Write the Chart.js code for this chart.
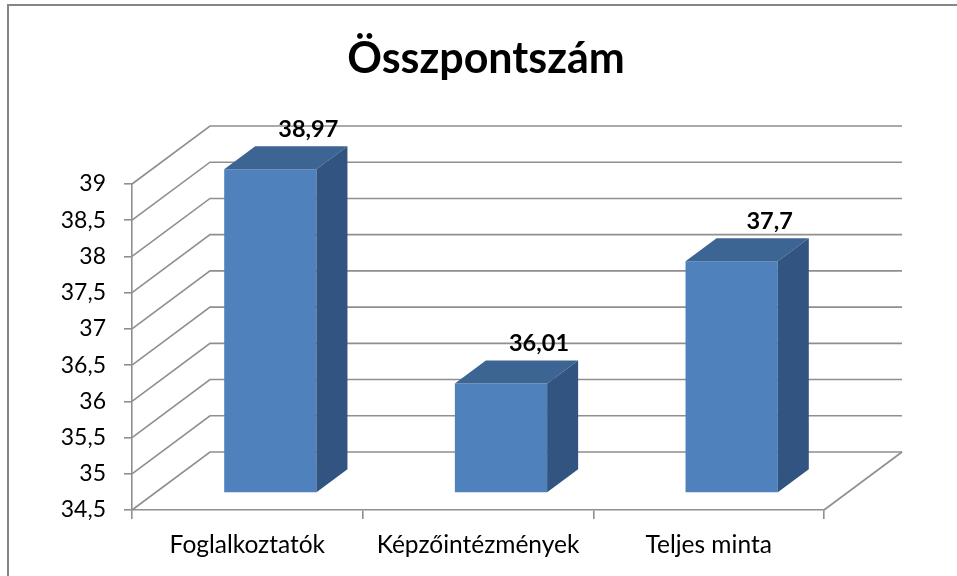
<!DOCTYPE html>
<html>
<head>
<meta charset="utf-8">
<script src="https://cdn.jsdelivr.net/npm/chart.js@4.4.1/dist/chart.umd.min.js"></script>
<style>
  html, body { margin: 0; padding: 0; background: #fff; }
  #wrap { width: 957px; height: 576px; }
</style>
</head>
<body>
<div id="wrap"><canvas id="scoreChart" width="957" height="576"></canvas></div>
<script>
const chartTitle = "Összpontszám";
const categories = ["Foglalkoztatók", "Képzőintézmények", "Teljes minta"];
const scores = [38.97, 36.01, 37.7];
const yMin = 34.5, yMax = 39, yStep = 0.5;

const FONT = "Lato, 'Open Sans', sans-serif";
const GRID = "#8f8f8f";
// oblique 3D offsets (back wall, bar front plane, bar depth)
const WALL = { dx: 78, dy: -58 };
const BAR_FRONT = { dx: 23, dy: -17 };
const BAR_DEPTH = { dx: 31, dy: -23 };

const comma = v => String(v).replace(".", ",");

// white background, outer frame and title
const framePlugin = {
  id: "frame",
  beforeDraw(chart) {
    const c = chart.ctx;
    c.save();
    c.fillStyle = "#fff";
    c.fillRect(0, 0, chart.width, chart.height);
    c.strokeStyle = "#868686";
    c.lineWidth = 2;
    c.strokeRect(8, 5, chart.width + 20, chart.height + 20);
    c.fillStyle = "#000";
    c.font = "bold 43px " + FONT;
    c.textAlign = "center";
    c.textBaseline = "alphabetic";
    c.fillText(chartTitle, 486, 73);
    c.restore();
  }
};

// back wall gridlines + 3D bars
const box3dPlugin = {
  id: "box3d",
  beforeDatasetsDraw(chart) {
    const c = chart.ctx;
    const x = chart.scales.x, y = chart.scales.y;
    c.save();
    c.strokeStyle = GRID;
    c.lineWidth = 1.6;
    y.ticks.forEach(t => {
      const py = y.getPixelForValue(t.value);
      c.beginPath();
      c.moveTo(x.left, py);
      c.lineTo(x.left + WALL.dx, py + WALL.dy);
      c.lineTo(x.right + WALL.dx, py + WALL.dy);
      c.stroke();
    });
    // right edge of the floor
    c.beginPath();
    c.moveTo(x.right, y.bottom);
    c.lineTo(x.right + WALL.dx, y.bottom + WALL.dy);
    c.stroke();
    c.restore();

    // front faces are drawn by Chart.js, shifted into the depth
    c.save();
    c.translate(BAR_FRONT.dx, BAR_FRONT.dy);
  },
  afterDatasetsDraw(chart) {
    const c = chart.ctx;
    c.restore();
    const meta = chart.getDatasetMeta(0);
    c.save();
    meta.data.forEach((bar, i) => {
      const p = bar.getProps(["x", "y", "base", "width"], true);
      const l = p.x - p.width / 2 + BAR_FRONT.dx;
      const r = p.x + p.width / 2 + BAR_FRONT.dx;
      const t = p.y + BAR_FRONT.dy;
      const b = p.base + BAR_FRONT.dy;
      const dx = BAR_DEPTH.dx, dy = BAR_DEPTH.dy;

      // top face
      c.fillStyle = "#3c6594";
      c.beginPath();
      c.moveTo(l, t);
      c.lineTo(l + dx, t + dy);
      c.lineTo(r + dx, t + dy);
      c.lineTo(r, t);
      c.closePath();
      c.fill();

      // side face
      c.fillStyle = "#325480";
      c.beginPath();
      c.moveTo(r, t);
      c.lineTo(r + dx, t + dy);
      c.lineTo(r + dx, b + dy);
      c.lineTo(r, b);
      c.closePath();
      c.fill();

      // value label
      c.fillStyle = "#000";
      c.font = "bold 23.5px " + FONT;
      c.textAlign = "center";
      c.textBaseline = "middle";
      c.fillText(comma(scores[i]), (l + r) / 2 + dx + 7, t + dy - 17);
    });
    c.restore();
  }
};

const ctx = document.getElementById("scoreChart").getContext("2d");
const scoreChart = new Chart(ctx, {
  type: "bar",
  data: {
    labels: categories,
    datasets: [{
      data: scores,
      base: yMin,
      backgroundColor: "#4f81bd",
      borderWidth: 0,
      barPercentage: 0.4,
      categoryPercentage: 1.0,
      clip: false
    }]
  },
  options: {
    responsive: false,
    animation: false,
    devicePixelRatio: 1,
    layout: { padding: { left: 0, top: 184, right: 133, bottom: 0 } },
    plugins: {
      legend: { display: false },
      title: { display: false },
      tooltip: { enabled: false }
    },
    scales: {
      x: {
        offset: true,
        grid: {
          offset: true,
          drawOnChartArea: false,
          drawTicks: true,
          tickLength: 9,
          color: GRID,
          lineWidth: 1.6
        },
        border: { display: true, color: GRID, width: 1.6 },
        ticks: {
          color: "#000",
          font: { family: FONT, size: 24.5 },
          padding: 11,
          maxRotation: 0
        },
        afterFit(scale) { scale.height = 66; }
      },
      y: {
        min: yMin,
        max: yMax,
        grid: {
          drawOnChartArea: false,
          drawTicks: true,
          tickLength: 8,
          color: GRID,
          lineWidth: 1.6
        },
        border: { display: true, color: GRID, width: 1.6 },
        ticks: {
          stepSize: yStep,
          color: "#000",
          font: { family: FONT, size: 23 },
          padding: 18,
          callback: v => comma(v)
        },
        afterFit(scale) { scale.width = 132; }
      }
    }
  },
  plugins: [framePlugin, box3dPlugin]
});
</script>
</body>
</html>
